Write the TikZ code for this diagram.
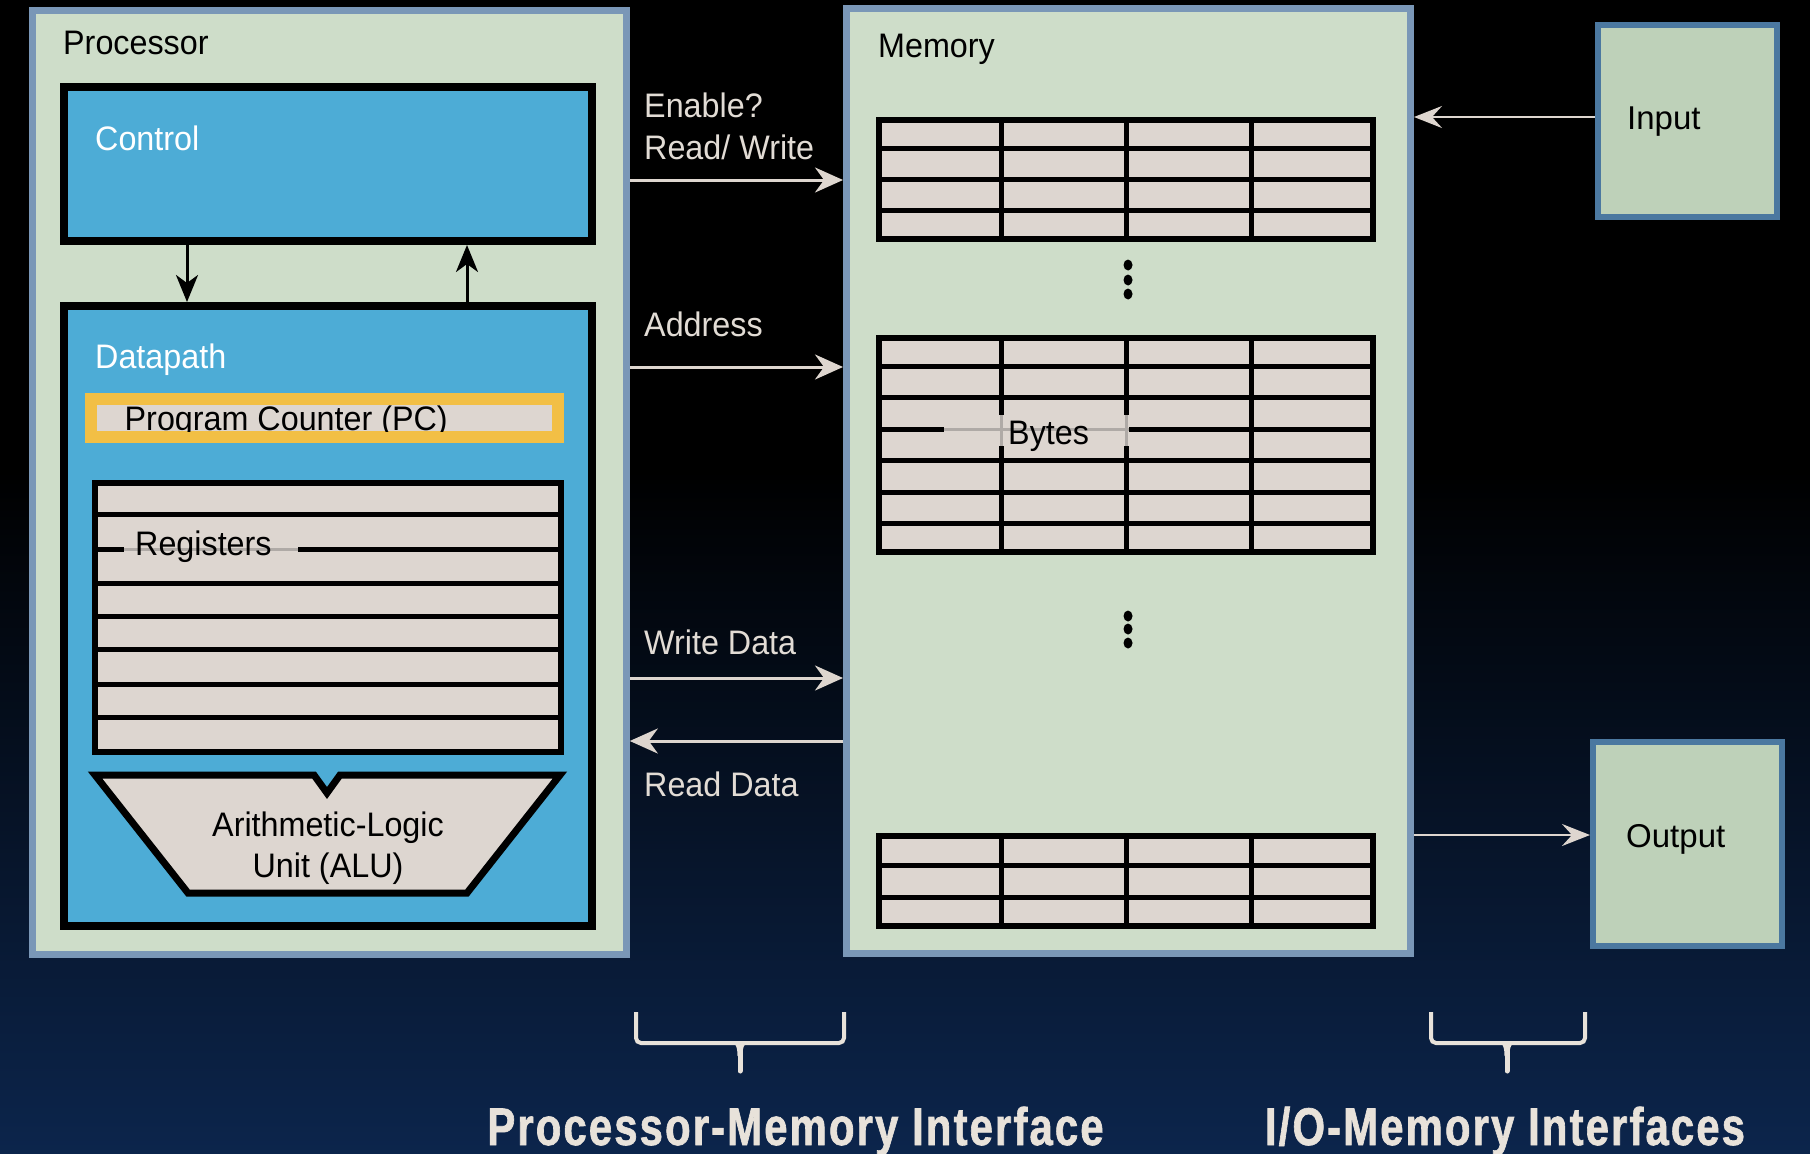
\documentclass[tikz,border=0pt]{standalone}
\usepackage{fontspec}
\setmainfont{Liberation Sans}
\newfontfamily\lblfont[FakeStretch=0.95]{Liberation Sans}
\newfontfamily\iofont{Liberation Sans}
\newfontfamily\bigfont[FakeStretch=0.79,LetterSpace=4,FakeBold=1.2]{Liberation Sans Bold}
\usetikzlibrary{arrows.meta}
\definecolor{panel}{RGB}{206,221,201}
\definecolor{panelbd}{RGB}{122,151,183}
\definecolor{iobg}{RGB}{190,209,185}
\definecolor{iobd}{RGB}{75,120,160}
\definecolor{cblue}{RGB}{77,172,214}
\definecolor{cell}{RGB}{221,214,208}
\definecolor{pcyel}{RGB}{242,191,69}
\definecolor{wire}{RGB}{222,214,207}
\definecolor{wiretext}{RGB}{226,220,213}
\definecolor{navy}{RGB}{12,37,76}
\definecolor{ctext}{RGB}{232,226,218}
\definecolor{graymark}{RGB}{175,170,166}
\begin{document}
\begin{tikzpicture}[x=1pt,y=-1pt,
 panelbox/.style={draw=panelbd,fill=panel,line width=7pt,inner sep=0pt},
 iobox/.style={draw=iobd,fill=iobg,line width=6pt,inner sep=0pt},
 unitbox/.style={draw=black,fill=cblue,line width=8pt,inner sep=0pt},
 txt/.style={font=\lblfont\fontsize{34}{40}\selectfont,inner sep=0pt,anchor=base west},
 whitetxt/.style={txt,text=white},
 wiretxt/.style={txt,text=wiretext},
 iotxt/.style={font=\iofont\fontsize{33}{40}\selectfont,inner sep=0pt,anchor=base west},
 bigtxt/.style={font=\bigfont\fontsize{53}{60}\selectfont,inner sep=0pt,anchor=base,text=ctext},
 wirearrow/.style={draw=wire,line width=3pt,-{Stealth[length=28pt,width=25pt,inset=9pt,fill=wire]}},
 ioarrow/.style={draw=wire,line width=2.5pt,-{Stealth[length=28pt,width=22pt,inset=10pt,fill=wire]}},
 ctlarrow/.style={draw=black,line width=3pt,-{Stealth[length=27pt,width=22pt,inset=8pt]}},
 gridline/.style={draw=black,line width=5pt},
 brace/.style={draw=ctext,line width=4pt},
]
\useasboundingbox (0,0) rectangle (1810,1154);
\fill[black] (0,0) rectangle (1810,1154);
\shade[top color=black,bottom color=navy] (0,470) rectangle (1810,1154);

% main panels
\node[panelbox,minimum width=594pt,minimum height=944pt] (proc) at (329.3,482.4) {};
\node[panelbox,minimum width=564pt,minimum height=945pt] (mem) at (1128.5,480.8) {};
\node[iobox,minimum width=179pt,minimum height=192pt] (inp) at (1687.5,121) {};
\node[iobox,minimum width=189pt,minimum height=204pt] (outp) at (1687.5,844) {};
\node[unitbox,minimum width=528pt,minimum height=154pt] (ctrl) at (328,164) {};
\node[unitbox,minimum width=528pt,minimum height=620pt] (dp) at (328,616) {};

% labels
\node[txt] (lproc) at (63,54) {Processor};
\node[whitetxt] (lctrl) at (95,150) {Control};
\node[whitetxt] (ldp) at (95,368) {Datapath};
\node[txt] (lmem) at (878,57) {Memory};
\node[wiretxt] (len) at (644,117) {Enable?};
\node[wiretxt] (lrw) at (644,159) {Read/ Write};
\node[wiretxt] (ladr) at (644,336) {Address};
\node[wiretxt] (lwd) at (644,654) {Write Data};
\node[wiretxt] (lrd) at (644,796) {Read Data};
\node[iotxt] (linp) at (1627,129) {Input};
\node[iotxt] (lout) at (1626,847) {Output};

% program counter
\node[fill=pcyel,minimum width=479pt,minimum height=50pt,inner sep=0pt] (pc) at (324.5,418) {};
\node[fill=cell,minimum width=455pt,minimum height=26pt,inner sep=0pt] (pcin) at (324.5,418) {};
\begin{scope}
\clip (97,405) rectangle (552,431);
\node[txt] (lpc) at (124.5,430) {Program Counter (PC)};
\end{scope}

% registers
\node[draw=black,fill=cell,line width=6pt,minimum width=466pt,minimum height=269pt,inner sep=0pt] (regs) at (328,617.5) {};
\foreach \yy in {514,549,583,616,649,684,717}
  \draw[gridline] (regs.west |- 0,\yy) -- (regs.east |- 0,\yy);
\draw[cell,line width=6pt] (124,549) -- (298,549);
\draw[graymark,line width=3pt] (124,549) -- (298,549);
\node[txt] (lregs) at (135,555) {Registers};

% ALU
\draw[black,fill=cell,line width=7pt,line join=miter] (95,775) -- (314,775) -- (327,793) -- (340,775) -- (560,775) -- (467,893) -- (188,893) -- cycle;
\node[txt,anchor=base] (lalu1) at (328,836) {Arithmetic-Logic};
\node[txt,anchor=base] (lalu2) at (328,877) {Unit (ALU)};

% control arrows
\draw[ctlarrow] (ctrl.south -| 187,0) -- (dp.north -| 187,0);
\draw[ctlarrow] (dp.north -| 467,0) -- (ctrl.south -| 467,0);

% memory tables
\foreach \ya/\nr/\rh in {117/4/31.25,335/7/31.43,833/3/32}{
  \pgfmathsetmacro\yb{\ya+\nr*\rh}
  \pgfmathtruncatemacro\nm{\nr-1}
  \fill[cell] (876,\ya) rectangle (1376,\yb);
  \foreach \r in {1,...,\nm}
    \draw[gridline] (876,{\ya+\r*\rh}) -- (1376,{\ya+\r*\rh});
  \foreach \xx in {1001,1126,1251}
    \draw[gridline] (\xx,\ya) -- (\xx,\yb);
  \draw[black,line width=6pt] (879,{\ya+3}) rectangle (1373,{\yb-3});
}
\draw[cell,line width=6pt] (944,429.3) -- (1129,429.3);
\draw[cell,line width=6pt] (1001,415) -- (1001,446);
\draw[cell,line width=6pt] (1126,415) -- (1126,446);
\draw[graymark,line width=3pt] (944,429.3) -- (1129,429.3);
\draw[graymark,line width=3pt] (1001,415) -- (1001,446);
\draw[graymark,line width=3pt] (1126,415) -- (1126,446);
\node[txt] (lbytes) at (1008,444) {Bytes};

% dots
\foreach \yy in {265,280,294,616,629,643}
  \fill[black] (1128,\yy) ellipse (4.5pt and 5.5pt);

% connectors
\draw[wirearrow] (proc.east |- 0,180) -- (mem.west |- 0,180);
\draw[wirearrow] (proc.east |- 0,367) -- (mem.west |- 0,367);
\draw[wirearrow] (proc.east |- 0,678) -- (mem.west |- 0,678);
\draw[wirearrow] (mem.west |- 0,741) -- (proc.east |- 0,741);
\draw[ioarrow] (inp.west |- 0,117) -- (mem.east |- 0,117);
\draw[ioarrow] (mem.east |- 0,835) -- (outp.west |- 0,835);

% braces
\draw[brace,rounded corners=5pt] (636,1012) -- (636,1043) -- (844,1043) -- (844,1012);
\fill[ctext] (728,1041) .. controls (736,1042) and (737.5,1047) .. (737.5,1056) -- (742.5,1056) .. controls (742.5,1047) and (744,1042) .. (752,1041) -- cycle;
\draw[ctext,line width=5pt,line cap=round] (740,1048) -- (740,1071);
\draw[brace,rounded corners=5pt] (1431,1012) -- (1431,1043) -- (1585,1043) -- (1585,1012);
\fill[ctext] (1495,1041) .. controls (1503,1042) and (1504.5,1047) .. (1504.5,1056) -- (1509.5,1056) .. controls (1509.5,1047) and (1511,1042) .. (1519,1041) -- cycle;
\draw[ctext,line width=5pt,line cap=round] (1507,1048) -- (1507,1071);

\node[bigtxt] (lpmi) at (795.5,1145) {Processor-Memory Interface};
\node[bigtxt] (liomi) at (1505,1145) {I/O-Memory Interfaces};
\end{tikzpicture}
\end{document}
